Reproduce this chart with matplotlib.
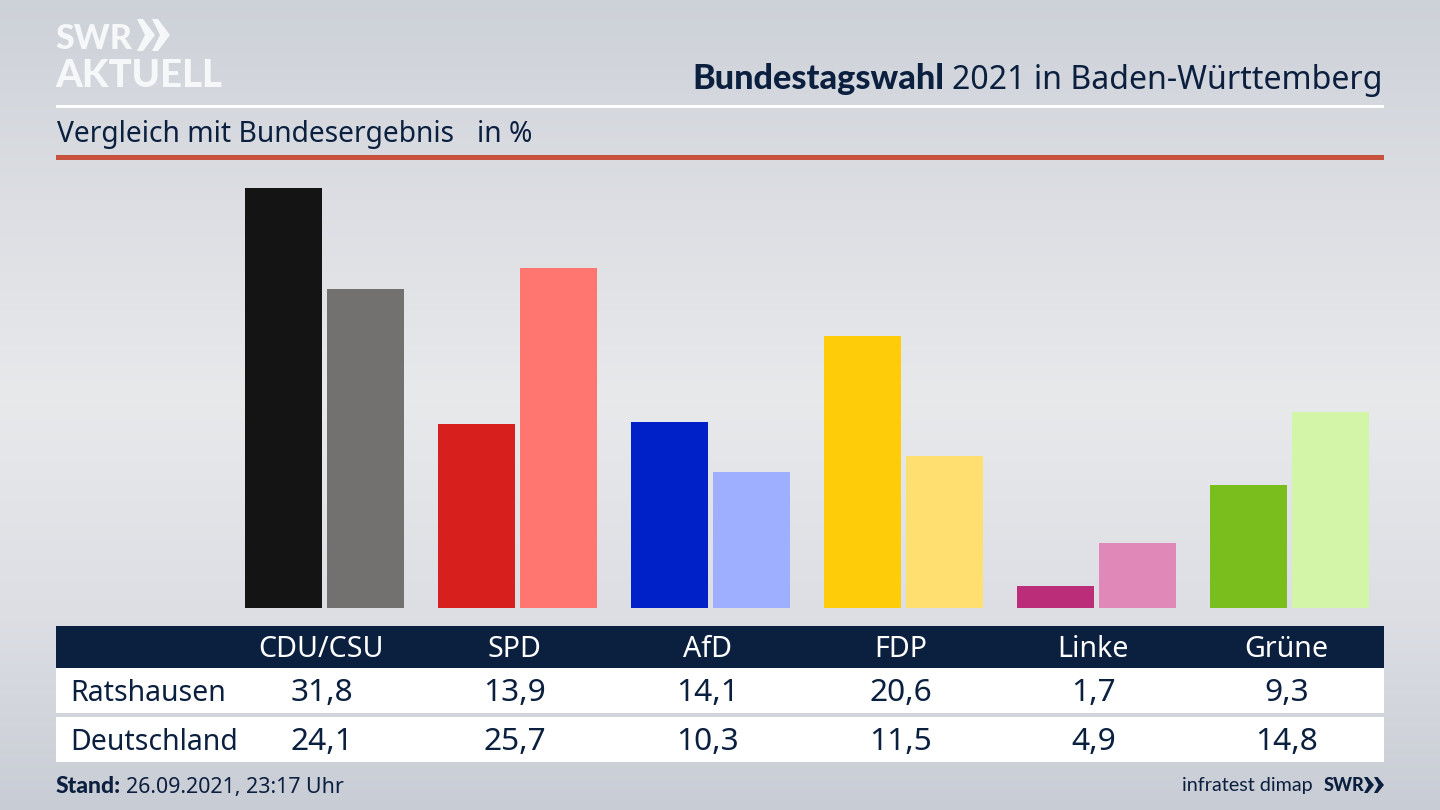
import numpy as np
import matplotlib
matplotlib.use('Agg')
import matplotlib.pyplot as plt
from matplotlib.patches import Rectangle, Polygon

# Zweitstimmen in %
parties = ['CDU/CSU', 'SPD', 'AfD', 'FDP', 'Linke', 'Grüne']
ratshausen = [31.8, 13.9, 14.1, 20.6, 1.7, 9.3]
deutschland = [24.1, 25.7, 10.3, 11.5, 4.9, 14.8]
colors_local = ['#141414', '#d71f1d', '#0021c8', '#ffcc0a', '#bb2d78', '#79be1c']
colors_national = ['#72716f', '#ff7570', '#9fafff', '#ffdf70', '#e088b8', '#d2f5a8']

NAVY = '#0b1f3f'
LOGO = '#f6f7f8'
plt.rcParams['font.family'] = ['Noto Sans', 'DejaVu Sans']

fig = plt.figure(figsize=(14.4, 8.1), dpi=100)

# background + layout in pixel coordinates
bg = fig.add_axes([0, 0, 1, 1])
bg.set_xlim(0, 1440)
bg.set_ylim(810, 0)
bg.axis('off')
grad_y = np.array([0, 200, 400, 620, 810])
grad_v = np.array([[205, 209, 216], [220, 222, 227], [232, 233, 235], [220, 222, 228], [200, 204, 212]])
grad = np.stack([np.interp(np.arange(810), grad_y, grad_v[:, i]) for i in range(3)], axis=1) / 255
bg.imshow(grad[:, None, :], extent=[0, 1440, 810, 0], aspect='auto', zorder=0)

# logo
bg.text(55, 49, 'SWR', color=LOGO, fontsize=24.5, fontweight='black', family='Lato', va='baseline')
bg.text(55, 87, 'AKTUELL', color=LOGO, fontsize=27.5, fontweight='black', family='Lato', va='baseline')
for x0 in (137, 152):
    bg.add_patch(Polygon([(x0, 19), (x0 + 6, 19), (x0 + 18, 35), (x0 + 6, 51), (x0, 51), (x0 + 8, 35)],
                         color=LOGO, lw=0))

# header
bg.text(692, 89, 'Bundestagswahl', color=NAVY, fontsize=24.7, fontweight='black', family='Lato', va='baseline')
bg.text(1383, 89, '2021 in Baden-Württemberg', color=NAVY, fontsize=23.1, ha='right', va='baseline')
bg.add_patch(Rectangle((56, 104.5), 1328, 3, color='white', lw=0))
bg.text(57, 142, 'Vergleich mit Bundesergebnis', color=NAVY, fontsize=20.3, va='baseline')
bg.text(477, 142, 'in %', color=NAVY, fontsize=20.3, va='baseline')
bg.add_patch(Rectangle((56, 155), 1328, 5, color='#c9523f', lw=0))

# bars
ax = fig.add_axes([56 / 1440, 1 - 608 / 810, 1328 / 1440, (608 - 160) / 810])
ax.patch.set_alpha(0)
ax.set_xlim((56 - 324.7) / 193, (1384 - 324.7) / 193)
ax.set_ylim(0, 448 / 13.22)
ax.axis('off')
x = np.arange(len(parties))
ax.bar(x - 0.2125, ratshausen, width=0.396, color=colors_local)
ax.bar(x + 0.2125, deutschland, width=0.396, color=colors_national)

# table
bg.add_patch(Rectangle((56, 626), 1328, 42, color=NAVY, lw=0))
bg.add_patch(Rectangle((56, 668), 1328, 45, color='white', lw=0))
bg.add_patch(Rectangle((56, 717), 1328, 45, color='white', lw=0))
bg.text(70, 701, 'Ratshausen', color=NAVY, fontsize=20.5, va='baseline')
bg.text(70, 749.5, 'Deutschland', color=NAVY, fontsize=20.5, va='baseline')
for i, party in enumerate(parties):
    cx = 321.5 + 193 * i
    bg.text(cx, 657, party, color='white', fontsize=20.6, ha='center', va='baseline')
    bg.text(cx, 701, f'{ratshausen[i]:.1f}'.replace('.', ','), color=NAVY, fontsize=22.8, ha='center', va='baseline')
    bg.text(cx, 750, f'{deutschland[i]:.1f}'.replace('.', ','), color=NAVY, fontsize=22.8, ha='center', va='baseline')

# footer
bg.text(56, 793, 'Stand:', color=NAVY, fontsize=16.5, fontweight='black', family='Lato', va='baseline')
bg.text(126, 793, '26.09.2021, 23:17 Uhr', color=NAVY, fontsize=15.4, va='baseline')
bg.text(1182, 791, 'infratest dimap', color=NAVY, fontsize=14.2, family='Lato', va='baseline')
bg.text(1324, 791, 'SWR', color=NAVY, fontsize=13, fontweight='black', family='Lato', va='baseline')
for x0 in (1364, 1374):
    bg.add_patch(Polygon([(x0, 777), (x0 + 3.5, 777), (x0 + 10, 785), (x0 + 3.5, 793), (x0, 793), (x0 + 4.5, 785)],
                         color=NAVY, lw=0))

fig.savefig('out.png', dpi=100)
